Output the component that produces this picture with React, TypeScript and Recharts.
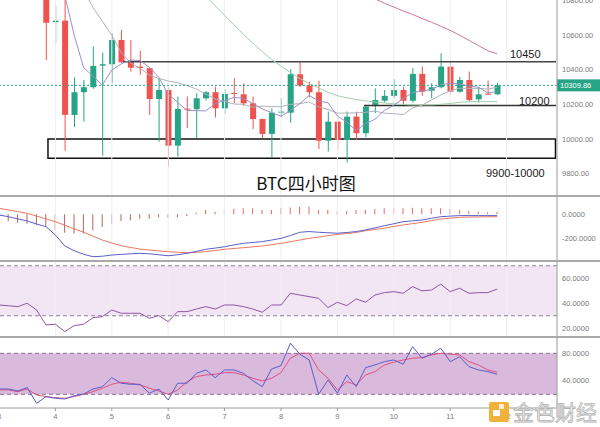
import React from 'react';
import { ComposedChart, Bar, Line, XAxis, YAxis, ReferenceLine, ReferenceArea, Cell } from 'recharts';

// candle index positions (4h candles), -5 .. 48
const IDX = [-5, -4, -3, -2, -1, 0, 1, 2, 3, 4, 5, 6, 7, 8, 9, 10, 11, 12, 13, 14, 15, 16, 17, 18, 19, 20, 21, 22, 23, 24, 25, 26, 27, 28, 29, 30, 31, 32, 33, 34, 35, 36, 37, 38, 39, 40, 41, 42, 43, 44, 45, 46, 47, 48];

const N5 = [null, null, null, null, null];
const OPEN = [...N5, 10850, 10676, 10684, 10139, 10270, 10299, 10424, 10432, 10572, 10451, 10418, 10409, 10231, 10283, 9961, 10175, 10172, 10235, 10270, 10177, 10266, 10258, 10206, 10115, 10029, 10152, 10152, 10374, 10309, 10270, 9990, 10100, 9994, 10129, 10033, 10197, 10221, 10249, 10283, 10221, 10376, 10279, 10299, 10418, 10273, 10341, 10229, 10262, 10258];
const HIGH = [...N5, 10870, 10775, 10815, 10357, 10341, 10534, 10499, 10611, 10630, 10572, 10510, 10412, 10351, 10299, 10245, 10245, 10264, 10277, 10302, 10287, 10351, 10322, 10245, 10118, 10177, 10235, 10403, 10447, 10331, 10337, 10158, 10129, 10158, 10158, 10197, 10293, 10283, 10345, 10300, 10410, 10418, 10322, 10495, 10447, 10360, 10389, 10299, 10337, 10325];
const LOW = [...N5, 10457, 10555, 9931, 10068, 10100, 10290, 9903, 10322, 10440, 10389, 10370, 10139, 9984, 9840, 9898, 10062, 10004, 10222, 10125, 10145, 10206, 10191, 10057, 10004, 9894, 10127, 10094, 10300, 10241, 9942, 9927, 9936, 9863, 9994, 10010, 10149, 10211, 10237, 10187, 10210, 10249, 10235, 10293, 10254, 10268, 10215, 10210, 10254, 10254];
const CLOSE = [...N5, 10672, 10684, 10139, 10270, 10299, 10422, 10432, 10572, 10443, 10412, 10410, 10231, 10283, 9961, 10173, 10170, 10235, 10270, 10177, 10260, 10260, 10206, 10115, 10029, 10152, 10158, 10374, 10309, 10270, 9990, 10100, 9994, 10129, 10033, 10187, 10225, 10249, 10283, 10221, 10376, 10273, 10299, 10418, 10273, 10341, 10225, 10258, 10258, 10309.86];

const MA5 = [null, null, null, null, null, null, null, 10830, 10600, 10413, 10363, 10312, 10399, 10434, 10456, 10454, 10414, 10356, 10259, 10212, 10164, 10164, 10162, 10205, 10222, 10240, 10235, 10204, 10174, 10152, 10131, 10165, 10204, 10252, 10219, 10209, 10133, 10097, 10049, 10089, 10114, 10165, 10195, 10233, 10268, 10277, 10286, 10313, 10322, 10317, 10306, 10299, 10266, 10274];
const MA10 = [null, null, null, null, null, null, null, null, null, 10860, 10760, 10680, 10600, 10500, 10440, 10408, 10370, 10350, 10335, 10325, 10309, 10289, 10259, 10232, 10217, 10202, 10200, 10183, 10190, 10187, 10186, 10200, 10204, 10213, 10186, 10170, 10149, 10150, 10151, 10154, 10161, 10149, 10146, 10141, 10179, 10195, 10225, 10254, 10278, 10293, 10292, 10292, 10289, 10298];
const MA30 = [null, null, null, null, null, null, null, null, null, null, null, null, null, null, null, null, null, null, null, 11000, 10940, 10885, 10830, 10770, 10715, 10660, 10605, 10555, 10505, 10460, 10420, 10385, 10350, 10320, 10295, 10270, 10250, 10238, 10228, 10220, 10213, 10208, 10203, 10199, 10197, 10197, 10197, 10200, 10205, 10212, 10215, 10216, 10216, 10216];
const MA60 = [null, null, null, null, null, null, null, null, null, null, null, null, null, null, null, null, null, null, null, null, null, null, null, null, null, null, null, null, null, null, null, null, null, null, null, 11000, 10960, 10920, 10880, 10845, 10810, 10785, 10763, 10740, 10720, 10697, 10675, 10652, 10628, 10600, 10570, 10540, 10510, 10492];

const MACD_HIST = [-58, -58, -69, -77, -90, -104, -132, -151, -159, -159, -132, -104, -77, -55, -50, -36, -36, -22, -30, -22, -14, 15, 35, 21, 45, 45, 49, 49, 35, 35, 49, 55, 63, 63, 35, 35, 27, 27, 35, 35, 44, 49, 49, 49, 54, 49, 49, 49, 44, 35, 27, 21, 16, 21];
const MACD_DIF = [-6, -20, -38, -55, -80, -102, -170, -260, -300, -329, -349, -345, -335, -330, -325, -321, -325, -333, -341, -333, -321, -305, -288, -278, -267, -252, -239, -232, -225, -212, -198, -175, -148, -142, -148, -152, -156, -150, -142, -129, -112, -94, -78, -61, -54, -47, -33, -20, -15, -11, -11, -11, -11, -11];
const MACD_DEA = [49, 36, 22, 8, -15, -38, -61, -90, -120, -148, -180, -212, -236, -258, -273, -286, -294, -301, -308, -312, -316, -313, -308, -298, -288, -281, -275, -268, -261, -250, -239, -226, -212, -198, -188, -176, -165, -158, -150, -135, -125, -115, -100, -88, -77, -66, -52, -39, -32, -25, -23, -22, -21, -20];

const RSI = [38.6, 38, 37.3, 40, 34.6, 22.6, 23.2, 17.3, 22.1, 23.2, 28.5, 29.3, 34.6, 32, 32, 32, 28, 30.1, 25.3, 33.3, 33.3, 35.4, 37.3, 35.4, 38.6, 38.6, 37.3, 35.4, 32.8, 38.6, 38.6, 48, 46.6, 45.3, 44, 36.5, 40.8, 38.1, 43.5, 40.8, 46.6, 48.5, 49.3, 48, 53.3, 49.9, 50.6, 55.3, 49.3, 52, 48, 48.5, 48.5, 51.4];

const STOCH_K = [27.8, 27.8, 24.9, 29.8, 6.9, 16.6, 14.2, 13.2, 18, 20.5, 27.8, 31.2, 44.4, 36.2, 34.7, 34.7, 21.6, 27.8, 11.7, 36.2, 36.2, 50.8, 55.7, 44.4, 55.7, 55.7, 50.8, 40, 31.2, 57.1, 62, 94.8, 78.7, 70.3, 20.1, 41, 21.6, 48.3, 31.2, 59, 63, 67.8, 70.3, 64, 89.8, 72.8, 78.7, 87.4, 67.8, 75, 60.5, 55.7, 53.2, 49.3];
const STOCH_D = [26.4, 26.4, 23.9, 27.8, 19.1, 16.6, 15.1, 14.2, 16.6, 20.1, 23.9, 28.9, 34.7, 37.7, 36.2, 33.8, 28.9, 24.9, 20.1, 26.4, 38.5, 45.9, 48.3, 49.3, 51.7, 51.7, 48.3, 43.5, 39.6, 43.5, 51.7, 72.8, 80, 80.1, 55.7, 43.5, 26.4, 38.5, 33.8, 48.3, 53.2, 63, 67, 70.3, 72.8, 73.7, 77.6, 80.1, 78.7, 77.6, 67.8, 63, 55.7, 52.3];

const DAY_TICKS = [-5, 1, 7, 13, 19, 25, 31, 37, 43, 49];
const DAY_LABELS = ['3', '4', '5', '6', '7', '8', '9', '10', '11', '12'];
const PRICE_TICKS = [9800, 10000, 10200, 10400, 10600, 10800];
const MACD_TICKS = [-200, 0];
const RSI_TICKS = [20, 40, 60];
const STOCH_TICKS = [40, 80];
const LAST_PRICE = 10309.86;
const RES_LEVEL = 10447;
const SUP_LEVEL = 10193;
const ZONE_LOW = 9888;
const ZONE_HIGH = 10000;

const rows = IDX.map((i, k) => ({
  i,
  o: OPEN[k], h: HIGH[k], l: LOW[k], c: CLOSE[k],
  ma5: MA5[k], ma10: MA10[k], ma30: MA30[k], ma60: MA60[k],
  hist: MACD_HIST[k], dif: MACD_DIF[k], dea: MACD_DEA[k],
  rsi: RSI[k], k: STOCH_K[k], d: STOCH_D[k],
}));

const GREEN = '#26a485';
const RED = '#ef5350';
const X_DOMAIN: [number, number] = [-4.894, 54.362];
const AXIS_W = 43;
const tickStyle = { fontSize: 7.5, fill: '#7a7a7a', fontFamily: 'Liberation Sans, Arial, sans-serif' };

const Candle = (props: any) => {
  const { x, y, width, height, payload } = props;
  if (!payload || payload.o == null) return null;
  const { o, h, l, c } = payload;
  const top = Math.min(y, y + height);
  const hh = Math.abs(height);
  const ratio = h === l ? 0 : hh / (h - l);
  const yOf = (v: number) => top + (h - v) * ratio;
  const up = c >= o;
  const color = up ? GREEN : RED;
  const cx = x + width / 2;
  const bTop = yOf(Math.max(o, c));
  const bBot = yOf(Math.min(o, c));
  return (
    <g>
      <line x1={cx} x2={cx} y1={top} y2={top + hh} stroke={color} strokeWidth={1} />
      <rect x={x} y={bTop} width={width} height={Math.max(1, bBot - bTop)} fill={color} />
    </g>
  );
};

const PriceTag = (props: any) => {
  const vb = props.viewBox || {};
  const x = (vb.x || 0) + (vb.width || 0);
  const y = vb.y || 0;
  return (
    <g>
      <rect x={x} y={y - 6} width={AXIS_W} height={12} fill={GREEN} />
      <text x={x + 3} y={y + 3} fontSize={7.5} fill="#fff" fontFamily="Liberation Sans, Arial, sans-serif">{LAST_PRICE.toFixed(2)}</text>
    </g>
  );
};

const dayLines = DAY_TICKS.map((t) => (
  <ReferenceLine key={'g' + t} x={t} stroke="#efefef" strokeWidth={1} ifOverflow="hidden" />
));

const hiddenX = (
  <XAxis dataKey="i" type="number" domain={X_DOMAIN} allowDataOverflow hide />
);

export default function App() {
  return (
    <div style={{ position: 'absolute', left: 0, top: 0, width: 600, height: 427, background: '#fff', overflow: 'hidden' }}>
      {/* main price pane */}
      <div style={{ position: 'absolute', left: 0, top: 0 }}>
        <ComposedChart width={600} height={196} data={rows} margin={{ top: 0, right: 0, bottom: 0, left: 0 }}>
          {hiddenX}
          <YAxis orientation="right" width={AXIS_W} domain={[9670, 10803.5]} allowDataOverflow ticks={PRICE_TICKS} interval={0}
            tickFormatter={(v: number) => v.toFixed(2)} tick={tickStyle} tickLine={false} tickSize={3} tickMargin={2}
            axisLine={{ stroke: '#9a9a9a' }} />
          {dayLines}
          <ReferenceArea x1={0.21} x2={54.2} y1={ZONE_LOW} y2={ZONE_HIGH} fill="#ffffff" fillOpacity={0} stroke="#111" strokeWidth={1.5} ifOverflow="visible" />
          <ReferenceLine segment={[{ x: 8.19, y: RES_LEVEL }, { x: 54.26, y: RES_LEVEL }]} stroke="#444" strokeWidth={1.5} ifOverflow="visible" />
          <ReferenceLine segment={[{ x: 33.83, y: SUP_LEVEL }, { x: 54.26, y: SUP_LEVEL }]} stroke="#333" strokeWidth={1.5} ifOverflow="visible" />
          <Line dataKey="ma60" stroke="#c9789e" strokeWidth={1} dot={false} isAnimationActive={false} />
          <Line dataKey="ma30" stroke="#a3cfae" strokeWidth={1} dot={false} isAnimationActive={false} />
          <Line dataKey="ma10" stroke="#b2b2bc" strokeWidth={1} dot={false} isAnimationActive={false} />
          <Line dataKey="ma5" stroke="#9a90cc" strokeWidth={1} dot={false} isAnimationActive={false} />
          <Bar dataKey={(r: any) => (r.l == null ? null : [r.l, r.h])} barSize={6} shape={<Candle />} isAnimationActive={false} />
          <ReferenceLine y={LAST_PRICE} stroke={GREEN} strokeDasharray="2 2" strokeWidth={1} label={<PriceTag />} />
        </ComposedChart>
      </div>

      {/* MACD pane */}
      <div style={{ position: 'absolute', left: 0, top: 197 }}>
        <ComposedChart width={600} height={63} data={rows} margin={{ top: 0, right: 0, bottom: 0, left: 0 }}>
          {hiddenX}
          <YAxis orientation="right" width={AXIS_W} domain={[-376, 142]} allowDataOverflow ticks={MACD_TICKS} interval={0}
            tickFormatter={(v: number) => v.toFixed(4)} tick={tickStyle} tickLine={false} tickSize={3} tickMargin={2}
            axisLine={{ stroke: '#9a9a9a' }} />
          {dayLines}
          <Bar dataKey="hist" barSize={1} isAnimationActive={false}>
            {rows.map((r, k) => (
              <Cell key={k} fill={r.hist < 0 ? '#b8625c' : '#e06a64'} />
            ))}
          </Bar>
          <Line dataKey="dea" stroke="#e8785e" strokeWidth={1} dot={false} isAnimationActive={false} />
          <Line dataKey="dif" stroke="#5b5fc9" strokeWidth={1} dot={false} isAnimationActive={false} />
        </ComposedChart>
      </div>

      {/* RSI pane */}
      <div style={{ position: 'absolute', left: 0, top: 262 }}>
        <ComposedChart width={600} height={75} data={rows} margin={{ top: 0, right: 0, bottom: 0, left: 0 }}>
          {hiddenX}
          <YAxis orientation="right" width={AXIS_W} domain={[13, 73]} allowDataOverflow ticks={RSI_TICKS} interval={0}
            tickFormatter={(v: number) => v.toFixed(4)} tick={tickStyle} tickLine={false} tickSize={3} tickMargin={2}
            axisLine={{ stroke: '#9a9a9a' }} />
          <ReferenceArea y1={30} y2={70} fill="#f2e6f4" fillOpacity={1} stroke="none" />
          {dayLines}
          <ReferenceLine y={70} stroke="#8f7f9c" strokeDasharray="4 3" />
          <ReferenceLine y={30} stroke="#8f7f9c" strokeDasharray="4 3" />
          <Line dataKey="rsi" stroke="#8e55a6" strokeWidth={1} dot={false} isAnimationActive={false} />
        </ComposedChart>
      </div>

      {/* Stochastic pane */}
      <div style={{ position: 'absolute', left: 0, top: 338 }}>
        <ComposedChart width={600} height={89} data={rows} margin={{ top: 0, right: 0, bottom: 0, left: 0 }}>
          <XAxis dataKey="i" type="number" domain={X_DOMAIN} allowDataOverflow ticks={DAY_TICKS} interval={0}
            tickFormatter={(v: number) => DAY_LABELS[DAY_TICKS.indexOf(v)] ?? ''} height={19}
            tick={tickStyle} tickSize={3} tickMargin={3} axisLine={{ stroke: '#9a9a9a' }} tickLine={{ stroke: '#9a9a9a' }} />
          <YAxis orientation="right" width={AXIS_W} domain={[0, 102.4]} allowDataOverflow ticks={STOCH_TICKS} interval={0}
            tickFormatter={(v: number) => v.toFixed(4)} tick={tickStyle} tickLine={false} tickSize={3} tickMargin={2}
            axisLine={{ stroke: '#9a9a9a' }} />
          <ReferenceArea y1={20} y2={80} fill="#d9badc" fillOpacity={1} stroke="none" />
          <ReferenceLine y={80} stroke="#8a7090" strokeDasharray="4 3" />
          <ReferenceLine y={20} stroke="#8a7090" strokeDasharray="4 3" />
          <Line dataKey="d" stroke="#e0507e" strokeWidth={1} dot={false} isAnimationActive={false} />
          <Line dataKey="k" stroke="#5c5ccc" strokeWidth={1} dot={false} isAnimationActive={false} />
        </ComposedChart>
      </div>

      {/* pane separators */}
      <div style={{ position: 'absolute', left: 0, top: 195, width: 600, height: 2, background: '#a9a9a9' }} />
      <div style={{ position: 'absolute', left: 0, top: 260, width: 600, height: 2, background: '#a9a9a9' }} />
      <div style={{ position: 'absolute', left: 0, top: 336, width: 600, height: 2, background: '#a9a9a9' }} />

      {/* annotations + watermark */}
      <svg width={600} height={427} style={{ position: 'absolute', left: 0, top: 0, pointerEvents: 'none' }}>
        <text x={510} y={58} fontSize={11} fill="#1a1a1a" fontFamily="Liberation Sans, Arial, sans-serif">10450</text>
        <text x={519} y={105} fontSize={11} fill="#1a1a1a" fontFamily="Liberation Sans, Arial, sans-serif">10200</text>
        <text x={486} y={177} fontSize={11} fill="#1a1a1a" fontFamily="Liberation Sans, Arial, sans-serif">9900-10000</text>
        <text x={306} y={190} fontSize={17} fill="#111" textAnchor="middle" fontFamily="Noto Sans CJK SC, sans-serif">BTC四小时图</text>
        <g>
          <rect x={489} y={402} width={20} height={20} rx={2} fill="#f0b23a" />
          <rect x={493} y={410} width={7} height={6} fill="#ffffff" />
          <rect x={499} y={404} width={5} height={5} fill="#ffffff" opacity={0.8} />
          <text x={513} y={420} fontSize={21} fill="#f5f5f5" stroke="#b5b5b5" strokeWidth={0.8} fontFamily="Noto Sans CJK SC, sans-serif">金色财经</text>
        </g>
      </svg>
    </div>
  );
}
